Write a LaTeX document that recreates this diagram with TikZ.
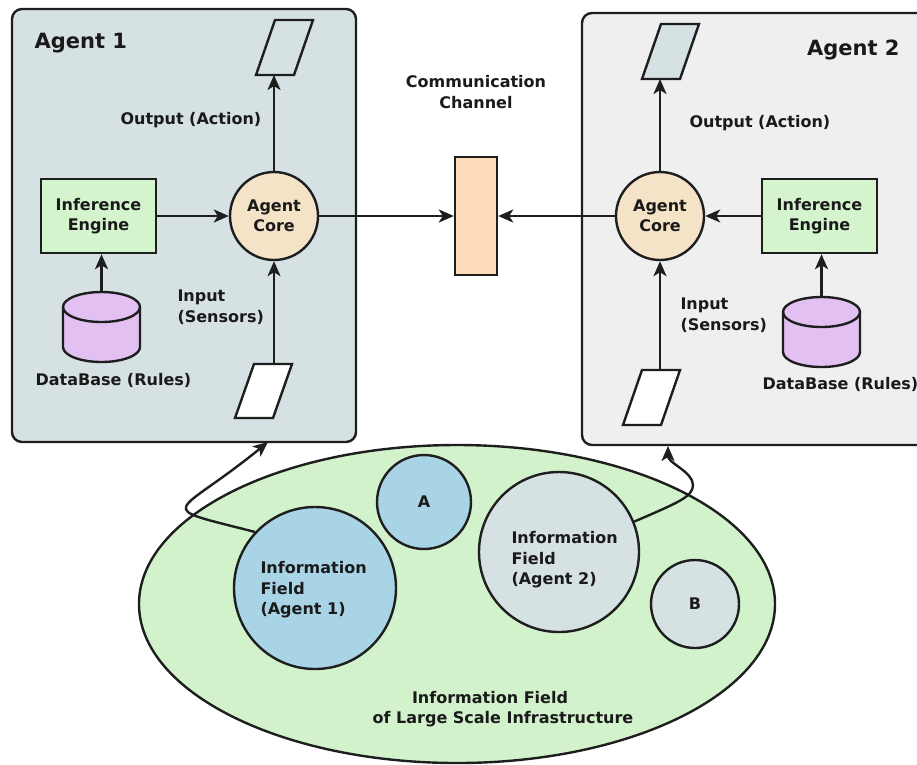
\documentclass[tikz,border=0pt]{standalone}
\usepackage{fontspec}
\setmainfont{DejaVu Sans}
\usetikzlibrary{arrows.meta,shapes.geometric,calc}
\definecolor{boxA}{HTML}{D6E1E3}
\definecolor{boxB}{HTML}{EFEFEF}
\definecolor{coreC}{HTML}{F5E3C8}
\definecolor{ieC}{HTML}{D4F4CE}
\definecolor{dbC}{HTML}{E2C0F2}
\definecolor{chC}{HTML}{FDDBB8}
\definecolor{ellC}{HTML}{D2F2CC}
\definecolor{blueC}{HTML}{A9D4E6}
\definecolor{lineC}{HTML}{1E1E1E}
\definecolor{txtC}{HTML}{1A1A1A}
\tikzset{
  every node/.style={font=\bfseries\fontsize{16}{20.5}\selectfont, text=txtC},
  ln/.style={draw=lineC, line width=2.4pt},
  arr/.style={draw=lineC, line width=2.4pt, -{Stealth[length=15pt,width=13pt,inset=4pt]}},
  iebox/.style={ln, fill=ieC, minimum width=115, minimum height=74, inner sep=0, align=center},
  corenode/.style={ln, circle, fill=coreC, minimum size=88, inner sep=0, align=center},
  inv/.style={inner sep=0, outer sep=0},
  fieldcirc/.style={ln, circle, inner sep=0},
  titletext/.style={font=\bfseries\fontsize{21}{25}\selectfont}
}
\begin{document}
\begin{tikzpicture}[x=1pt,y=-1pt]
\useasboundingbox (0,0) rectangle (917,764);
\clip (0,0) rectangle (917,764);

% agent boxes
\draw[ln, fill=boxA, rounded corners=10pt] (12,9) rectangle (356,442);
\draw[ln, fill=boxB, rounded corners=10pt] (582,13) rectangle (945,445);

\node[titletext, anchor=base west] (t1) at (31,48) {Agent 1};
\node[titletext, anchor=base east] (t2) at (903,55) {Agent 2};

% ---------- Agent 1 ----------
\node[iebox] (ie1) at (98.5,216) {Inference\\Engine};
\node[corenode] (core1) at (274,216) {Agent\\Core};
\node[inv, minimum width=77, minimum height=70] (db1) at (101.5,327) {};
\begin{scope}[shift={(db1.center)}]
\draw[ln, fill=dbC] (-38.5,-20) .. controls (-38.5,-28.3) and (-21.3,-35) .. (0,-35)
  .. controls (21.3,-35) and (38.5,-28.3) .. (38.5,-20) -- (38.5,20)
  .. controls (38.5,28.3) and (21.3,35) .. (0,35)
  .. controls (-21.3,35) and (-38.5,28.3) .. (-38.5,20) -- cycle;
\draw[ln] (-38.5,-20) .. controls (-38.5,-11.7) and (-21.3,-5) .. (0,-5)
  .. controls (21.3,-5) and (38.5,-11.7) .. (38.5,-20);
\end{scope}
\node[inv, minimum width=57, minimum height=55] (out1) at (284.5,47.5) {};
\draw[ln, fill=boxA] (out1.south west) -- ++(38,0) -- ++(19,-55) -- ++(-38,0) -- cycle;
\node[inv, minimum width=57, minimum height=54] (in1) at (263.5,391) {};
\draw[ln, fill=white] (in1.south west) -- ++(38,0) -- ++(19,-54) -- ++(-38,0) -- cycle;

\node[anchor=base west] (oa1) at (117,124) {Output (Action)};
\node[anchor=west, align=left] (is1) at (174,307) {Input\\(Sensors)};
\node[anchor=base west] (dl1) at (32,385) {DataBase (Rules)};

% ---------- Agent 2 ----------
\node[iebox] (ie2) at (819.5,216) {Inference\\Engine};
\node[corenode] (core2) at (660,216) {Agent\\Core};
\node[inv, minimum width=77, minimum height=70] (db2) at (821.5,332) {};
\begin{scope}[shift={(db2.center)}]
\draw[ln, fill=dbC] (-38.5,-20) .. controls (-38.5,-28.3) and (-21.3,-35) .. (0,-35)
  .. controls (21.3,-35) and (38.5,-28.3) .. (38.5,-20) -- (38.5,20)
  .. controls (38.5,28.3) and (21.3,35) .. (0,35)
  .. controls (-21.3,35) and (-38.5,28.3) .. (-38.5,20) -- cycle;
\draw[ln] (-38.5,-20) .. controls (-38.5,-11.7) and (-21.3,-5) .. (0,-5)
  .. controls (21.3,-5) and (38.5,-11.7) .. (38.5,-20);
\end{scope}
\node[inv, minimum width=57, minimum height=55] (out2) at (670.5,51.5) {};
\draw[ln, fill=boxA] (out2.south west) -- ++(38,0) -- ++(19,-55) -- ++(-38,0) -- cycle;
\node[inv, minimum width=57, minimum height=55] (in2) at (651.5,397.5) {};
\draw[ln, fill=white] (in2.south west) -- ++(38,0) -- ++(19,-55) -- ++(-38,0) -- cycle;

\node[anchor=base west] (oa2) at (686,127) {Output (Action)};
\node[anchor=west, align=left] (is2) at (677,315) {Input\\(Sensors)};
\node[anchor=base west] (dl2) at (759,389) {DataBase (Rules)};

% ---------- channel ----------
\node[ln, fill=chC, minimum width=42, minimum height=118, inner sep=0] (ch) at (476,216) {};
\node[align=center] (chl) at (476,92) {Communication\\Channel};

% arrows in agents
\draw[arr] (ie1) -- (core1);
\draw[arr] (db1.north) -- (db1.north |- ie1.south);
\draw[arr] (core1) -- (core1 |- out1.south);
\draw[arr] (in1.north -| core1) -- (core1);
\draw[arr] (core1) -- (ch);
\draw[arr] (core2) -- (ch);
\draw[arr] (ie2) -- (core2);
\draw[arr] (db2.north) -- (db2.north |- ie2.south);
\draw[arr] (core2) -- (core2 |- out2.south);
\draw[arr] (in2.north -| core2) -- (core2);

% ---------- information field ----------
\node[ellipse, ln, fill=ellC, minimum width=636, minimum height=318, inner sep=0] (field) at (457,604) {};
\node[fieldcirc, fill=blueC, minimum size=162] (if1) at (315,588) {};
\node[fieldcirc, fill=blueC, minimum size=94] (ca) at (424,502) {A};
\node[fieldcirc, fill=boxA, minimum size=160] (if2) at (559,552) {};
\node[fieldcirc, fill=boxA, minimum size=88] (cb) at (695,604) {B};

\node[anchor=west, align=left] (if1l) at (257,590) {Information\\Field\\(Agent 1)};
\node[anchor=west, align=left] (if2l) at (508,560) {Information\\Field\\(Agent 2)};
\node[align=center] (fieldl) at (503,709) {Information Field\hspace*{26pt}\\of Large Scale Infrastructure};

\coordinate (tip1) at (268,442);
\coordinate (tip2) at (668,446);
\draw[arr] (if1.137) .. controls (150,505) and (175,518) .. (tip1);
\draw[arr] (if2.22) .. controls (677,503) and (693,497) .. (693,485) .. controls (693,472) and (668,463) .. (tip2);
\end{tikzpicture}
\end{document}
